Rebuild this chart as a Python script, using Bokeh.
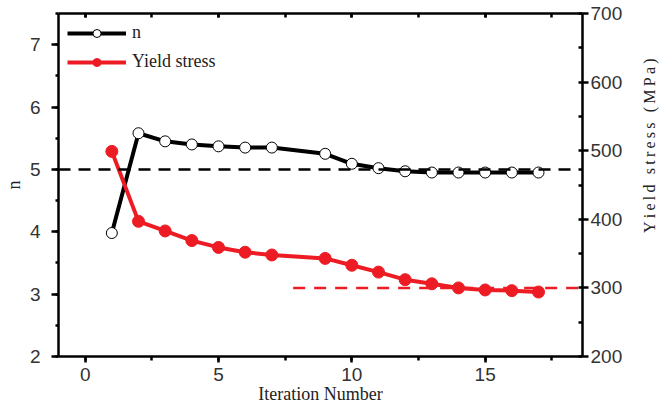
import math
from bokeh.plotting import figure
from bokeh.layouts import row
from bokeh.models import (Range1d, LinearAxis, SingleIntervalTicker, Legend, LegendItem, Span)
from bokeh.core.properties import value
from bokeh.embed import file_html
from bokeh.resources import INLINE

iteration = [1, 2, 3, 4, 5, 6, 7, 9, 10, 11, 12, 13, 14, 15, 16, 17]
n_values = [3.98, 5.58, 5.45, 5.40, 5.37, 5.35, 5.35, 5.25, 5.09, 5.02, 4.97, 4.95, 4.95, 4.95, 4.95, 4.95]
yield_stress = [499, 397, 383, 369, 359, 352, 348, 343, 333, 323, 312, 306, 300, 297, 296, 294]
n_ref = 5.0
stress_ref = 300
stress_ref_x = [7.8, 18.65]

RED = "#ED1C24"
TICK_COLOR = "#333333"
TS = "\u2009"
right_label = (TS + " " + TS).join(TS.join(w) for w in ["Yield", "stress", "(MPa)"])

H = 410
p = figure(frame_width=524, frame_height=343, output_backend="svg", toolbar_location=None,
           x_range=Range1d(-1, 18.65), y_range=Range1d(2, 7.5),
           min_border_left=55, min_border_right=53, min_border_top=13, min_border_bottom=H - 356)
p.extra_y_ranges = {"ys": Range1d(200, 700)}
p.xgrid.visible = False
p.ygrid.visible = False
p.outline_line_color = None
p.background_fill_color = "white"

# reference lines
p.add_layout(Span(location=n_ref, dimension="width", line_color="black",
                  line_width=2.5, line_dash="12 8"))
p.line(stress_ref_x, [stress_ref, stress_ref], y_range_name="ys", line_color=RED,
       line_width=2.5, line_dash="12 9")

l1 = p.line(iteration, n_values, line_color="black", line_width=4)
s1 = p.scatter(iteration, n_values, size=11, marker="circle", fill_color="white",
               line_color="black", line_width=1)
l2 = p.line(iteration, yield_stress, y_range_name="ys", line_color=RED, line_width=4)
s2 = p.scatter(iteration, yield_stress, y_range_name="ys", size=12, marker="circle",
               fill_color=RED, line_color=RED)

def style_axis(ax):
    ax.axis_line_width = 2.5
    ax.axis_line_color = "black"
    ax.major_tick_line_width = 2.5
    ax.minor_tick_line_width = 2.5
    ax.major_tick_line_color = "black"
    ax.minor_tick_line_color = "black"
    ax.major_label_text_font = "Liberation Sans"
    ax.major_label_text_font_size = "19px"
    ax.major_label_text_color = TICK_COLOR
    ax.axis_label_text_font = "Liberation Serif"
    ax.axis_label_text_font_style = "normal"
    ax.axis_label_text_color = "#222222"

# bottom axis
xa = p.xaxis[0]
xa.ticker = SingleIntervalTicker(interval=5, num_minor_ticks=2)
style_axis(xa)
xa.major_tick_out = 6
xa.major_tick_in = 0
xa.minor_tick_out = 4
xa.minor_tick_in = 0
xa.axis_label = "Iteration Number"
xa.axis_label_text_font_size = "18px"
xa.axis_label_standoff = 0
xa.major_label_standoff = 5

# left axis
ya = p.yaxis[0]
ya.ticker = SingleIntervalTicker(interval=1, num_minor_ticks=2)
style_axis(ya)
ya.major_tick_out = 7
ya.major_tick_in = 0
ya.minor_tick_out = 3
ya.minor_tick_in = 0
ya.axis_label = "n"
ya.axis_label_text_font_size = "18px"
ya.axis_label_standoff = 3
ya.major_label_standoff = 11

# right axis
ry = LinearAxis(y_range_name="ys", ticker=SingleIntervalTicker(interval=100, num_minor_ticks=2))
style_axis(ry)
ry.major_tick_out = 6
ry.major_tick_in = 0
ry.minor_tick_out = 0
ry.minor_tick_in = 4
ry.major_label_standoff = 2
p.add_layout(ry, "right")

# top axis (ticks only)
ta = LinearAxis(ticker=SingleIntervalTicker(interval=5, num_minor_ticks=2))
style_axis(ta)
ta.major_tick_out = 0
ta.major_tick_in = 4
ta.minor_tick_out = 0
ta.minor_tick_in = 4
ta.major_label_text_font_size = "0px"
ta.major_label_text_alpha = 0
ta.major_label_standoff = 0
p.add_layout(ta, "above")

legend = Legend(items=[LegendItem(label="n", renderers=[l1, s1]),
                       LegendItem(label="Yield stress", renderers=[l2, s2])],
                location="top_left")
legend.label_text_font = "Liberation Serif"
legend.label_text_font_size = "18px"
legend.label_text_color = "#222222"
legend.glyph_width = 59
legend.glyph_height = 20
legend.spacing = 8
legend.label_standoff = 6
legend.margin = 5
legend.padding = 4
legend.border_line_alpha = 0
legend.background_fill_alpha = 0
p.add_layout(legend)

# right-side rotated title (reads bottom-to-top)
p2 = figure(width=28, height=H, output_backend="svg", toolbar_location=None,
            x_range=Range1d(0, 1), y_range=Range1d(0, H),
            x_axis_type=None, y_axis_type=None,
            min_border_left=0, min_border_right=0, min_border_top=0, min_border_bottom=0)
p2.outline_line_color = None
p2.xgrid.visible = False
p2.ygrid.visible = False
p2.text(x=[0.5], y=[H - 158], text=[right_label], angle=math.pi / 2,
        text_align="center", text_baseline="middle",
        text_font=value("Liberation Serif"), text_font_size="16px", text_color="#222222")

layout = row(p, p2, spacing=0)
open("out.html", "w").write(file_html(layout, INLINE))
